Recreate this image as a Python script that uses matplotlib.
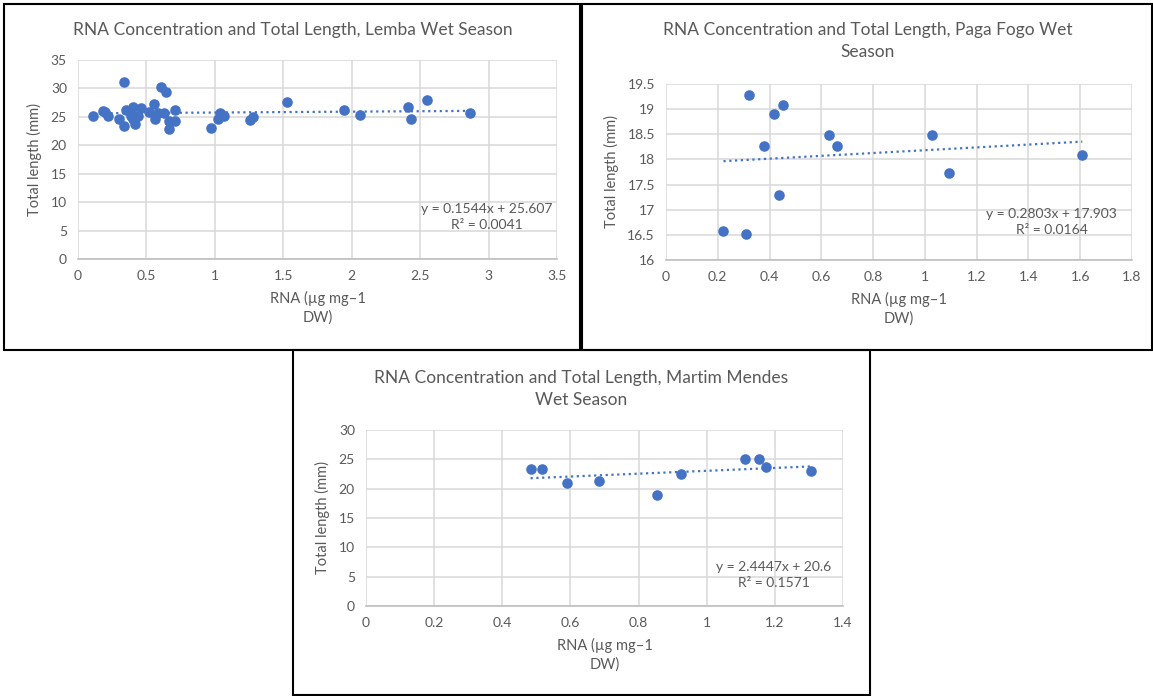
import matplotlib
matplotlib.use("Agg")
import matplotlib.pyplot as plt
from matplotlib.patches import Rectangle
import numpy as np

plt.rcParams["font.family"] = ["Lato", "DejaVu Sans"]

# RNA concentration (ug/mg DW) vs total length (mm), wet season samples
lemba_rna = [0.11, 0.18, 0.196, 0.22, 0.30, 0.334, 0.334, 0.348, 0.40, 0.39,
             0.404, 0.417, 0.44, 0.459, 0.52, 0.557, 0.566, 0.588, 0.606, 0.625,
             0.64, 0.662, 0.662, 0.706, 0.71, 0.973, 1.02, 1.04, 1.055, 1.066,
             1.255, 1.28, 1.53, 1.946, 2.06, 2.41, 2.43, 2.55, 2.865]
lemba_len = [25.2, 26.1, 25.8, 25.1, 24.7, 31.2, 23.4, 26.25, 26.8, 25.1,
             24.6, 23.7, 25.1, 26.5, 25.9, 27.3, 24.7, 25.7, 30.2, 25.7,
             29.3, 24.3, 22.9, 24.3, 26.25, 23.0, 24.7, 25.7, 25.4, 25.1,
             24.5, 24.9, 27.7, 26.25, 25.4, 26.8, 24.7, 27.9, 25.7]
lemba_fit = (0.1544, 25.607, 0.0041)

paga_rna = [0.222, 0.308, 0.319, 0.377, 0.418, 0.436, 0.45, 0.628, 0.662,
            1.026, 1.093, 1.608]
paga_len = [16.58, 16.51, 19.29, 18.26, 18.90, 17.29, 19.08, 18.48, 18.27,
            18.49, 17.73, 18.09]
paga_fit = (0.2803, 17.903, 0.0164)

mm_rna = [0.483, 0.517, 0.589, 0.685, 0.855, 0.925, 1.111, 1.152, 1.173, 1.307]
mm_len = [23.3, 23.3, 21.0, 21.3, 18.9, 22.5, 25.1, 25.0, 23.7, 23.0]
mm_fit = (2.4447, 20.6, 0.1571)

W, H = 1153, 696
fig = plt.figure(figsize=(W / 100, H / 100), dpi=100)
fig.patch.set_facecolor("white")

TXT = "#595959"
GRID = "#d9d9d9"
BLUE = "#4472c4"


def box(x0, y0, x1, y1):
    # pixel box (top-left origin) -> figure fraction rect
    return [x0 / W, 1 - y1 / H, (x1 - x0) / W, (y1 - y0) / H]


def frame(x0, y0, x1, y1):
    r = box(x0, y0, x1, y1)
    fig.patches.append(Rectangle((r[0], r[1]), r[2], r[3], transform=fig.transFigure,
                                 fill=False, edgecolor="black", linewidth=1.5))


def panel(rect, x, y, fit, xlim, xstep, ylim, ystep, eq_pos, title, title_xy):
    ax = fig.add_axes(box(*rect))
    ax.scatter(x, y, s=58, color=BLUE, zorder=3, linewidths=0)
    slope, icept, r2 = fit
    xs = np.array([min(x), max(x)])
    ax.plot(xs, slope * xs + icept, color=BLUE, linewidth=1.6,
            linestyle=(0, (1, 1.6)), zorder=2)
    ax.set_xlim(*xlim)
    ax.set_ylim(*ylim)
    ax.set_xticks(np.arange(xlim[0], xlim[1] + 1e-9, xstep))
    ax.set_yticks(np.arange(ylim[0], ylim[1] + 1e-9, ystep))
    ax.xaxis.set_major_formatter(matplotlib.ticker.FormatStrFormatter("%g"))
    ax.yaxis.set_major_formatter(matplotlib.ticker.FormatStrFormatter("%g"))
    ax.grid(True, color=GRID, linewidth=1.1)
    ax.set_axisbelow(True)
    for s in ["top", "right", "left"]:
        ax.spines[s].set_visible(False)
    ax.spines["bottom"].set_color("#bfbfbf")
    ax.spines["bottom"].set_linewidth(1.2)
    ax.tick_params(length=0, colors=TXT, labelsize=10, pad=8)
    ax.set_xlabel("RNA (µg mg–1\nDW)", color=TXT, fontsize=10.5, labelpad=6,
                  linespacing=1.45)
    ax.set_ylabel("Total length (mm)", color=TXT, fontsize=10.5, labelpad=6)
    ax.text(eq_pos[0], eq_pos[1],
            f"y = {slope}x + {icept}\nR² = {r2}",
            transform=ax.transAxes, ha="center", va="center", color=TXT,
            fontsize=10, linespacing=1.45)
    fig.text(title_xy[0] / W, 1 - title_xy[1] / H, title, ha="center", va="center",
             color=TXT, fontsize=12.5, linespacing=1.5)
    return ax


frame(4, 4, 580, 350)
frame(582, 4, 1152, 350)
frame(293, 350, 870, 695)

panel((78, 60, 557, 259), lemba_rna, lemba_len, lemba_fit, (0, 3.5), 0.5, (0, 35), 5,
      (0.854, 0.211), "RNA Concentration and Total Length, Lemba Wet Season", (293, 30))
panel((666, 84, 1132, 260), paga_rna, paga_len, paga_fit, (0, 1.8), 0.2, (16, 19.5), 0.5,
      (0.828, 0.216), "RNA Concentration and Total Length, Paga Fogo Wet\nSeason", (868, 41))
panel((366, 430, 843, 606), mm_rna, mm_len, mm_fit, (0, 1.4), 0.2, (0, 30), 5,
      (0.855, 0.176), "RNA Concentration and Total Length, Martim Mendes\nWet Season", (581, 389))

fig.savefig("out.png", dpi=100, facecolor="white")
